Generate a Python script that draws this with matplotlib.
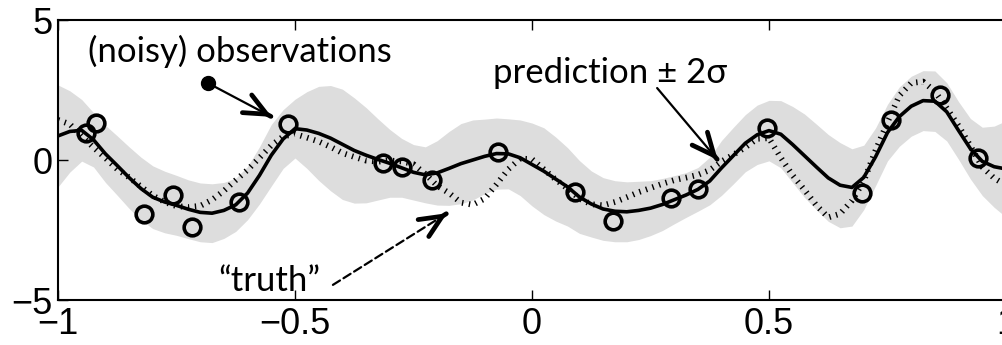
import numpy as np
import matplotlib
matplotlib.use("Agg")
import matplotlib.pyplot as plt

plt.rcParams['font.family'] = ['Liberation Sans', 'DejaVu Sans']
plt.rcParams['lines.scale_dashes'] = False

# grid the curves were read on
x_grid = np.linspace(-1, 1, 81)

# GP posterior mean (solid line)
mean = [
    0.86, 1.02, 1.06, 0.72, 0.22, -0.20, -0.63, -1.02, -1.33, -1.50,
    -1.62, -1.76, -1.87, -1.90, -1.80, -1.60, -1.18, -0.55, 0.17, 0.75,
    1.12, 1.07, 0.95, 0.78, 0.56, 0.34, 0.17, 0.02, -0.12, -0.28,
    -0.44, -0.53, -0.46, -0.30, -0.13, 0.00, 0.13, 0.23, 0.22, 0.08,
    -0.16, -0.40, -0.68, -0.96, -1.32, -1.57, -1.75, -1.83, -1.85, -1.80,
    -1.72, -1.59, -1.42, -1.25, -1.05, -0.75, -0.28, 0.16, 0.60, 0.90,
    1.05, 0.92, 0.55, 0.15, -0.25, -0.64, -0.90, -0.98, -0.62, 0.12,
    0.98, 1.55, 1.92, 2.12, 2.10, 1.72, 1.05, 0.40, -0.05, -0.24,
    -0.32,
]

# half width of the shaded band (2 sigma)
two_sigma = [
    1.82, 1.45, 1.10, 0.97, 1.02, 1.06, 1.10, 1.12, 1.12, 1.10,
    1.07, 1.05, 1.05, 1.05, 1.00, 0.95, 0.95, 1.02, 1.10, 1.05,
    1.05, 1.37, 1.68, 1.88, 1.97, 1.88, 1.70, 1.45, 1.21, 1.05,
    0.99, 1.00, 1.15, 1.32, 1.43, 1.43, 1.33, 1.27, 1.25, 1.35,
    1.48, 1.55, 1.50, 1.40, 1.30, 1.18, 1.12, 1.09, 1.07, 1.04,
    0.98, 0.93, 0.86, 0.80, 0.78, 0.85, 0.98, 1.01, 1.02, 1.06,
    1.08, 1.20, 1.36, 1.49, 1.53, 1.55, 1.52, 1.38, 1.15, 1.03,
    1.01, 1.06, 1.07, 1.07, 1.08, 1.04, 1.03, 1.08, 1.22, 1.45,
    1.72,
]

# underlying "truth" function (hatched line)
truth = [
    1.43, 1.28, 0.85, 0.45, 0.07, -0.33, -0.62, -0.95, -1.27, -1.50,
    -1.65, -1.68, -1.64, -1.42, -1.10, -0.72, -0.35, 0.08, 0.52, 0.84,
    0.93, 0.80, 0.66, 0.47, 0.25, 0.11, -0.02, -0.06, -0.02, -0.05,
    -0.15, -0.50, -0.92, -1.18, -1.52, -1.60, -1.38, -0.87, -0.33, 0.05,
    0.03, -0.33, -0.70, -1.02, -1.38, -1.58, -1.62, -1.50, -1.33, -1.15,
    -1.00, -0.85, -0.72, -0.63, -0.53, -0.36, -0.05, 0.19, 0.45, 0.76,
    0.78, 0.08, -0.55, -1.07, -1.62, -2.05, -1.92, -1.45, -0.75, 0.35,
    1.35, 2.30, 2.75, 2.80, 2.45, 1.85, 1.22, 0.50, -0.25, -0.65,
    -0.90,
]

# noisy observations
obs_x = [-0.941, -0.920, -0.819, -0.758, -0.717, -0.618, -0.515, -0.314, -0.274, -0.211,
         -0.071, 0.091, 0.171, 0.293, 0.351, 0.496, 0.696, 0.757, 0.861, 0.941]
obs_y = [0.96, 1.32, -1.93, -1.25, -2.39, -1.50, 1.29, -0.11, -0.24, -0.71,
         0.28, -1.13, -2.17, -1.37, -1.03, 1.13, -1.17, 1.43, 2.32, 0.07]

x_ticks = [-1, -0.5, 0, 0.5, 1]
y_ticks = [-5, 0, 5]

mean = np.array(mean)
two_sigma = np.array(two_sigma)

fig = plt.figure(figsize=(10.03, 3.45), dpi=100)
ax = fig.add_axes([58 / 1003, 45 / 345, 948 / 1003, 280 / 345])

ax.fill_between(x_grid, mean - two_sigma, mean + two_sigma, color='#dddddd', lw=0, zorder=1)
ax.plot(x_grid, truth, color='k', lw=4.2, dashes=(1.0, 4.0), zorder=2)
ax.plot(x_grid, mean, color='k', lw=2.6, zorder=3)
ax.plot(obs_x, obs_y, 'o', mfc='none', mec='k', ms=12, mew=2.6, zorder=4)

ax.set_xlim(-1, 1)
ax.set_ylim(-5, 5)
ax.set_xticks(x_ticks)
ax.set_yticks(y_ticks)
ax.set_xticklabels(['\u22121', '\u22120.5', '0', '0.5', '1'])
ax.set_yticklabels(['\u22125', '0', '5'])
ax.tick_params(direction='in', length=7, width=1, labelsize=26, top=True)
ax.tick_params(axis='x', pad=5)
ax.tick_params(axis='y', pad=4)
for s in ax.spines.values():
    s.set_linewidth(1.5)

note_font = dict(family=['Lato', 'DejaVu Sans'], fontsize=25, color='k')


def arrow(start, tip, ls='-'):
    ax.annotate('', xy=tip, xytext=start,
                arrowprops=dict(arrowstyle='-', lw=1.6, linestyle=ls, color='k',
                                shrinkA=0, shrinkB=0), zorder=5)
    p0 = ax.transData.transform(start)
    p1 = ax.transData.transform(tip)
    d = (p1 - p0) / np.hypot(*(p1 - p0))
    ax.annotate('', xy=tip, xytext=(-d[0], -d[1]), textcoords='offset pixels',
                arrowprops=dict(arrowstyle='->,head_length=0.8,head_width=0.36',
                                mutation_scale=20, lw=3.4, color='k',
                                shrinkA=0, shrinkB=0), zorder=5)


ax.text(-0.937, 3.5, '(noisy) observations', ha='left', va='baseline', **note_font)
ax.plot(-0.684, 2.75, 'o', color='k', ms=10, zorder=5)
arrow((-0.684, 2.75), (-0.549, 1.54))

ax.text(-0.082, 2.75, 'prediction \u00b1 2\u03c3', ha='left', va='baseline', **note_font)
arrow((0.264, 2.57), (0.392, 0.0))

ax.text(-0.662, -4.68, '\u201ctruth\u201d', ha='left', va='baseline', **note_font)
arrow((-0.42, -4.46), (-0.179, -1.9), ls=(0, (6, 3)))

fig.savefig('out.png', dpi=100)
